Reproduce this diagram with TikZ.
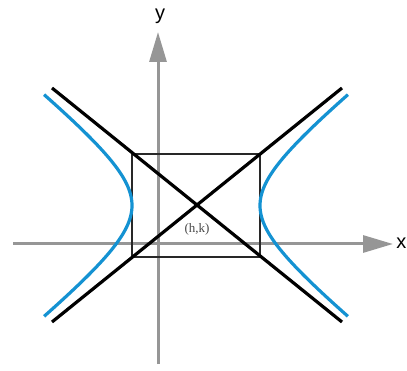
\documentclass[tikz,border=0pt]{standalone}
\usepackage{fontspec}
\setmainfont{Liberation Sans}
\newfontfamily\serifhk{Liberation Serif}
\usetikzlibrary{arrows.meta}
\definecolor{axisgray}{RGB}{150,150,150}
\definecolor{curveblue}{RGB}{20,146,210}
\definecolor{boxgray}{RGB}{40,40,40}
\begin{document}
\begin{tikzpicture}[x=1pt,y=-1pt,
  axisline/.style={draw=axisgray,line width=3pt,-{Triangle[length=30pt,width=17pt]}},
  asym/.style={draw=black,line width=3.2pt},
  hyp/.style={draw=curveblue,line width=3.2pt},
  boxline/.style={draw=boxgray,line width=1.2pt},
  axislabel/.style={font=\fontsize{20}{20}\selectfont,text=black,inner sep=0pt}]
\useasboundingbox (0,0) rectangle (407,371);
% points
\coordinate (xs) at (13,244);
\coordinate (xe) at (393,244);
\coordinate (ys) at (158,364);
\coordinate (ye) at (158,32);
\coordinate (C) at (196,205.5);
\coordinate (TL) at (52,88);
\coordinate (BR) at (342,322);
\coordinate (BL) at (52,322);
\coordinate (TR) at (342,88);
% axes
\draw[axisline] (xs) -- (xe);
\draw[axisline] (ys) -- (ye);
\node[axislabel] (ylab) at (160,16) {y};
\node[axislabel,anchor=east] (xlab) at (406.5,243) {x};
% box
\draw[boxline] (132,154) rectangle (260,257);
% asymptotes
\draw[asym] (TL) -- (BR);
\draw[asym] (BL) -- (TR);
% hyperbola branches
\draw[hyp,domain=-1.51:1.51,samples=80,variable=\t]
  plot ({196-64*cosh(\t)},{205.5+51.5*sinh(\t)});
\draw[hyp,domain=-1.51:1.51,samples=80,variable=\t]
  plot ({196+64*cosh(\t)},{205.5+51.5*sinh(\t)});
\node[font=\serifhk\fontsize{13}{13}\selectfont,text=boxgray!85,inner sep=0pt] (hk) at (197,229) {(h,k)};
\end{tikzpicture}
\end{document}
